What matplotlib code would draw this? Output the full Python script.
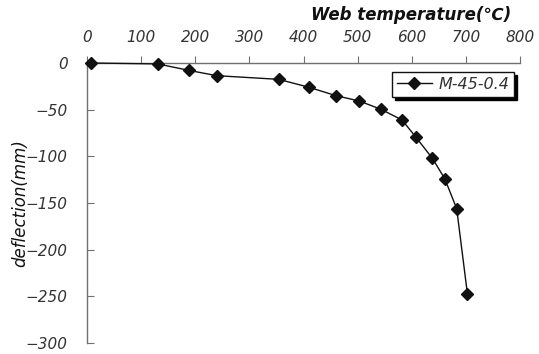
import matplotlib
matplotlib.use("Agg")
import matplotlib.pyplot as plt

# Web temperature (C) vs deflection (mm)
temperature = [7, 131, 189, 240, 354, 410, 460, 503, 543, 582, 607, 638, 661, 683, 703]
deflection = [0, -1, -8, -13.6, -17.5, -26, -35, -40.7, -49.6, -61, -79, -102, -124, -156, -248]
series_label = "M-45-0.4"

x_ticks = list(range(0, 801, 100))
y_ticks = list(range(0, -301, -50))

plt.rcParams['font.family'] = ['DejaVu Sans']

fig = plt.figure(figsize=(5.39, 3.54), dpi=100)
ax = fig.add_axes([87 / 539, 1 - 343 / 354, (520 - 87) / 539, (343 - 63) / 354])

ax.plot(temperature, deflection, color='#111111', lw=1.0, marker='D',
        markersize=6, markerfacecolor='#111111', markeredgecolor='#111111',
        label=series_label, clip_on=False, zorder=3)

ax.set_xlim(0, 800)
ax.set_ylim(-300, 0)
ax.set_xticks(x_ticks)
ax.set_yticks(y_ticks)

ax.xaxis.tick_top()
ax.spines['bottom'].set_visible(False)
ax.spines['right'].set_visible(False)
for s in ('top', 'left'):
    ax.spines[s].set_color('#707070')
    ax.spines[s].set_linewidth(1.0)

ax.tick_params(axis='x', direction='out', length=5, color='#707070', pad=8,
               labelsize=11, labelcolor='#333333')
ax.tick_params(axis='y', direction='in', length=5, color='#707070', pad=14,
               labelsize=11, labelcolor='#333333')
for lab in ax.get_xticklabels() + ax.get_yticklabels():
    lab.set_fontstyle('italic')

fig.text(511 / 539, 1 - 15 / 354, "Web temperature(℃)", ha='right', va='center',
         fontsize=12, fontweight='semibold', fontstyle='italic', color='#111111')
fig.text(20 / 539, 1 - 203 / 354, "deflection(mm)", ha='center', va='center',
         rotation=90, fontsize=12, fontstyle='italic', color='#111111')

leg = ax.legend(loc='upper left', bbox_to_anchor=(0.704, 0.967), borderaxespad=0,
                fancybox=False, framealpha=1, edgecolor='#111111',
                shadow={'color': 'black', 'alpha': 1}, handlelength=2.2,
                handletextpad=0.4, borderpad=0.3, prop={'style': 'italic', 'size': 11.5})
leg.get_frame().set_linewidth(1.0)
for t in leg.get_texts():
    t.set_color('#333333')

fig.savefig("out.png", dpi=100)
